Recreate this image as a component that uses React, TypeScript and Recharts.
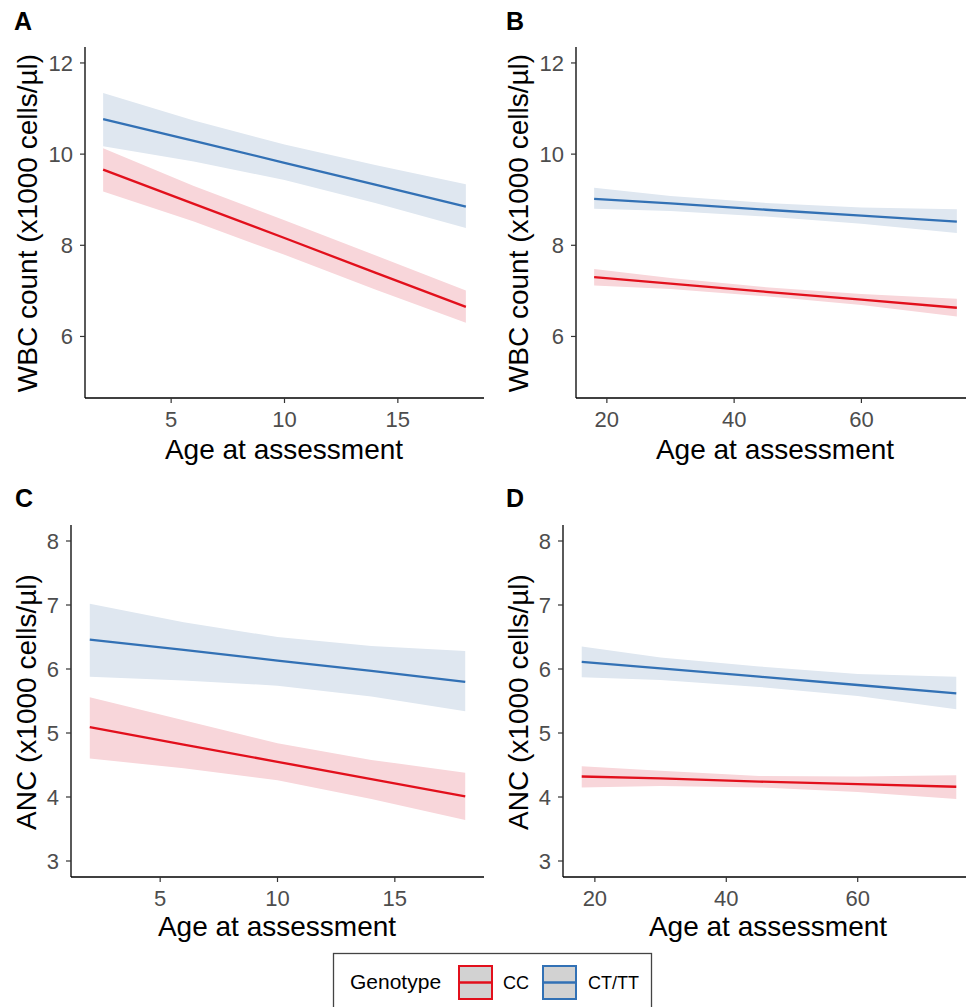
import React from 'react';
import { ComposedChart, Line, Area, XAxis, YAxis } from 'recharts';

const RED = '#E2101C';
const BLUE = '#3271B5';
const RED_BAND = '#F8D6DA';
const BLUE_BAND = '#DFE7F0';
const FONT = '"Liberation Sans", Arial, Helvetica, sans-serif';

// ages on the x axis
const childAges = [2, 6, 10, 14, 18];
const adultAges = [18, 30, 45, 60, 75];

const childTicks = [5, 10, 15];
const adultTicks = [20, 40, 60];
const wbcTicks = [6, 8, 10, 12];
const ancTicks = [3, 4, 5, 6, 7, 8];

// WBC, children (panel A)
const wbcChildCC = [9.66, 8.91, 8.16, 7.4, 6.65];
const wbcChildCCLow = [9.18, 8.52, 7.79, 7.03, 6.3];
const wbcChildCCHigh = [10.13, 9.3, 8.55, 7.78, 7.01];
const wbcChildCT = [10.77, 10.29, 9.81, 9.33, 8.85];
const wbcChildCTLow = [10.17, 9.84, 9.43, 8.93, 8.38];
const wbcChildCTHigh = [11.34, 10.74, 10.21, 9.76, 9.34];

// WBC, adults (panel B)
const wbcAdultCC = [7.3, 7.16, 6.98, 6.81, 6.63];
const wbcAdultCCLow = [7.12, 7.04, 6.88, 6.69, 6.44];
const wbcAdultCCHigh = [7.48, 7.28, 7.08, 6.93, 6.83];
const wbcAdultCT = [9.02, 8.92, 8.78, 8.65, 8.52];
const wbcAdultCTLow = [8.8, 8.75, 8.63, 8.47, 8.27];
const wbcAdultCTHigh = [9.26, 9.08, 8.93, 8.83, 8.79];

// ANC, children (panel C)
const ancChildCC = [5.09, 4.82, 4.55, 4.28, 4.01];
const ancChildCCLow = [4.6, 4.45, 4.26, 3.97, 3.64];
const ancChildCCHigh = [5.56, 5.2, 4.84, 4.58, 4.38];
const ancChildCT = [6.46, 6.3, 6.13, 5.97, 5.8];
const ancChildCTLow = [5.88, 5.82, 5.74, 5.57, 5.34];
const ancChildCTHigh = [7.02, 6.73, 6.5, 6.36, 6.28];

// ANC, adults (panel D)
const ancAdultCC = [4.32, 4.29, 4.24, 4.2, 4.16];
const ancAdultCCLow = [4.15, 4.17, 4.15, 4.08, 3.97];
const ancAdultCCHigh = [4.48, 4.41, 4.33, 4.32, 4.34];
const ancAdultCT = [6.11, 6.01, 5.88, 5.75, 5.62];
const ancAdultCTLow = [5.87, 5.83, 5.72, 5.58, 5.37];
const ancAdultCTHigh = [6.35, 6.18, 6.04, 5.92, 5.88];

const buildRows = (ages, cc, ccLo, ccHi, ct, ctLo, ctHi) =>
  ages.map((age, i) => ({
    age,
    cc: cc[i],
    ccBand: [ccLo[i], ccHi[i]],
    ct: ct[i],
    ctBand: [ctLo[i], ctHi[i]],
  }));

const panelA = buildRows(childAges, wbcChildCC, wbcChildCCLow, wbcChildCCHigh, wbcChildCT, wbcChildCTLow, wbcChildCTHigh);
const panelB = buildRows(adultAges, wbcAdultCC, wbcAdultCCLow, wbcAdultCCHigh, wbcAdultCT, wbcAdultCTLow, wbcAdultCTHigh);
const panelC = buildRows(childAges, ancChildCC, ancChildCCLow, ancChildCCHigh, ancChildCT, ancChildCTLow, ancChildCTHigh);
const panelD = buildRows(adultAges, ancAdultCC, ancAdultCCLow, ancAdultCCHigh, ancAdultCT, ancAdultCTLow, ancAdultCTHigh);

const tickStyle = { fontSize: 22, fill: '#4D4D4D', fontFamily: FONT };
const axisStyle = { stroke: '#000', strokeWidth: 1.3 };
const tickLineStyle = { stroke: '#333', strokeWidth: 1.2 };

const Y_W = 60;
const X_H = 50;

function Panel({ left, top, plotW, plotH, rows, xDomain, xTicks, yDomain, yTicks }) {
  return (
    <div style={{ position: 'absolute', left: left - Y_W, top }}>
      <ComposedChart
        width={plotW + Y_W}
        height={plotH + X_H}
        data={rows}
        margin={{ top: 0, right: 0, bottom: 0, left: 0 }}
      >
        <XAxis
          type="number"
          dataKey="age"
          domain={xDomain}
          ticks={xTicks}
          allowDataOverflow
          interval={0}
          height={X_H}
          tickSize={5}
          tickMargin={8}
          tick={tickStyle}
          axisLine={axisStyle}
          tickLine={tickLineStyle}
        />
        <YAxis
          type="number"
          domain={yDomain}
          ticks={yTicks}
          allowDataOverflow
          interval={0}
          width={Y_W}
          tickSize={5}
          tickMargin={7}
          tick={tickStyle}
          axisLine={axisStyle}
          tickLine={tickLineStyle}
        />
        <Area type="linear" dataKey="ctBand" fill={BLUE_BAND} fillOpacity={1} stroke="none" isAnimationActive={false} activeDot={false} />
        <Area type="linear" dataKey="ccBand" fill={RED_BAND} fillOpacity={1} stroke="none" isAnimationActive={false} activeDot={false} />
        <Line type="linear" dataKey="ct" stroke={BLUE} strokeWidth={2.3} dot={false} activeDot={false} isAnimationActive={false} />
        <Line type="linear" dataKey="cc" stroke={RED} strokeWidth={2.3} dot={false} activeDot={false} isAnimationActive={false} />
      </ComposedChart>
    </div>
  );
}

const childDomain = [1.2, 18.8];
const adultDomain = [15.15, 77.85];
const wbcDomain = [4.65, 12.35];
const ancDomain = [2.75, 8.25];

export default function App() {
  const title = { fontFamily: FONT, fontSize: 28, fill: '#000' };
  const letter = { fontFamily: FONT, fontSize: 25, fontWeight: 700, fill: '#000' };
  return (
    <div style={{ position: 'relative', width: 966, height: 1007, overflow: 'hidden', background: '#fff' }}>
      <style>{'body{margin:0}'}</style>
      <Panel left={85} top={47} plotW={399} plotH={351} rows={panelA} xDomain={childDomain} xTicks={childTicks} yDomain={wbcDomain} yTicks={wbcTicks} />
      <Panel left={576} top={47} plotW={399} plotH={351} rows={panelB} xDomain={adultDomain} xTicks={adultTicks} yDomain={wbcDomain} yTicks={wbcTicks} />
      <Panel left={71} top={525} plotW={413} plotH={352} rows={panelC} xDomain={childDomain} xTicks={childTicks} yDomain={ancDomain} yTicks={ancTicks} />
      <Panel left={563} top={525} plotW={412} plotH={352} rows={panelD} xDomain={adultDomain} xTicks={adultTicks} yDomain={ancDomain} yTicks={ancTicks} />

      <svg width={966} height={1007} style={{ position: 'absolute', left: 0, top: 0, pointerEvents: 'none' }}>
        <text x={14} y={30} {...letter}>A</text>
        <text x={506} y={30} {...letter}>B</text>
        <text x={15} y={507} {...letter}>C</text>
        <text x={506} y={507} {...letter}>D</text>

        <text x={284} y={459} textAnchor="middle" {...title}>Age at assessment</text>
        <text x={775} y={459} textAnchor="middle" {...title}>Age at assessment</text>
        <text x={277} y={936} textAnchor="middle" {...title}>Age at assessment</text>
        <text x={768} y={936} textAnchor="middle" {...title}>Age at assessment</text>

        <text x={37} y={223} textAnchor="middle" transform="rotate(-90 37 223)" {...title}>WBC count (x1000 cells/µl)</text>
        <text x={528} y={223} textAnchor="middle" transform="rotate(-90 528 223)" {...title}>WBC count (x1000 cells/µl)</text>
        <text x={36} y={702} textAnchor="middle" transform="rotate(-90 36 702)" {...title}>ANC (x1000 cells/µl)</text>
        <text x={528} y={702} textAnchor="middle" transform="rotate(-90 528 702)" {...title}>ANC (x1000 cells/µl)</text>

        {/* legend */}
        <rect x={333.5} y={953.5} width={318} height={70} fill="#fff" stroke="#444" strokeWidth={1.3} />
        <text x={350} y={989} fontFamily={FONT} fontSize={21} fill="#000">Genotype</text>
        <rect x={459} y={966} width={33} height={33} fill="#D2D2D2" stroke={RED} strokeWidth={2} />
        <line x1={459} x2={492} y1={982.5} y2={982.5} stroke={RED} strokeWidth={2.3} />
        <text x={503} y={989} fontFamily={FONT} fontSize={18} fill="#000">CC</text>
        <rect x={543} y={966} width={33} height={33} fill="#D2D2D2" stroke={BLUE} strokeWidth={2} />
        <line x1={543} x2={576} y1={982.5} y2={982.5} stroke={BLUE} strokeWidth={2.3} />
        <text x={588} y={989} fontFamily={FONT} fontSize={18} fill="#000">CT/TT</text>
      </svg>
    </div>
  );
}
